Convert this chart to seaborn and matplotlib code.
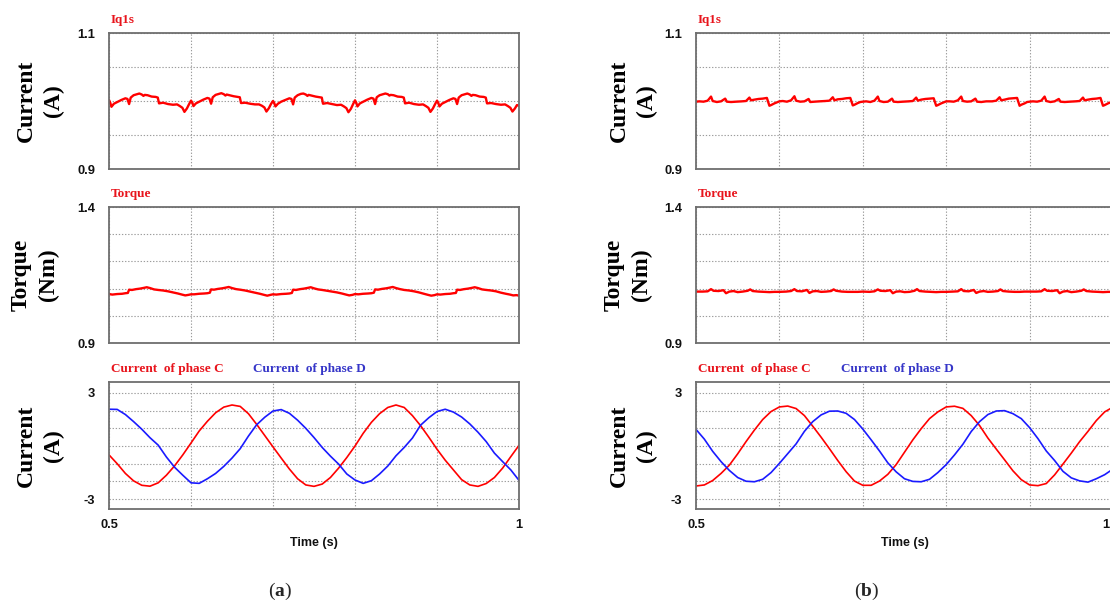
import matplotlib
matplotlib.use("Agg")
import matplotlib.pyplot as plt
import seaborn as sns
import pandas as pd

# ------------------------------------------------------------------ data
x_ticks = [0.5, 0.6, 0.7, 0.8, 0.9, 1.0]
x_tick_labels = ["0.5", "", "", "", "", "1"]
iq_yticks = [0.9, 0.95, 1.0, 1.05, 1.1]
iq_yticklabels = ["0.9", "", "", "", "1.1"]
tq_yticks = [0.9, 1.0, 1.1, 1.2, 1.3, 1.4]
tq_yticklabels = ["0.9", "", "", "", "", "1.4"]
ph_yticks = [-3, -2, -1, 0, 1, 2, 3]
ph_yticklabels = ["-3", "", "", "", "", "", "3"]

# (a) Iq1s
iq_a_time = [
    0.5000, 0.5015, 0.5030, 0.5060, 0.5100, 0.5150, 0.5200, 0.5225, 0.5245, 0.5265, 0.5300, 0.5340, 0.5370, 0.5400, 0.5420,
    0.5435, 0.5470, 0.5520, 0.5570, 0.5595, 0.5610, 0.5660, 0.5720, 0.5780, 0.5830, 0.5865, 0.5895, 0.5920, 0.5950, 0.5975,
    0.6000, 0.6015, 0.6030, 0.6060, 0.6100, 0.6150, 0.6200, 0.6225, 0.6245, 0.6265, 0.6300, 0.6340, 0.6370, 0.6400, 0.6420,
    0.6435, 0.6470, 0.6520, 0.6570, 0.6595, 0.6610, 0.6660, 0.6720, 0.6780, 0.6830, 0.6865, 0.6895, 0.6920, 0.6950, 0.6975,
    0.7000, 0.7015, 0.7030, 0.7060, 0.7100, 0.7150, 0.7200, 0.7225, 0.7245, 0.7265, 0.7300, 0.7340, 0.7370, 0.7400, 0.7420,
    0.7435, 0.7470, 0.7520, 0.7570, 0.7595, 0.7610, 0.7660, 0.7720, 0.7780, 0.7830, 0.7865, 0.7895, 0.7920, 0.7950, 0.7975,
    0.8000, 0.8015, 0.8030, 0.8060, 0.8100, 0.8150, 0.8200, 0.8225, 0.8245, 0.8265, 0.8300, 0.8340, 0.8370, 0.8400, 0.8420,
    0.8435, 0.8470, 0.8520, 0.8570, 0.8595, 0.8610, 0.8660, 0.8720, 0.8780, 0.8830, 0.8865, 0.8895, 0.8920, 0.8950, 0.8975,
    0.9000, 0.9015, 0.9030, 0.9060, 0.9100, 0.9150, 0.9200, 0.9225, 0.9245, 0.9265, 0.9300, 0.9340, 0.9370, 0.9400, 0.9420,
    0.9435, 0.9470, 0.9520, 0.9570, 0.9595, 0.9610, 0.9660, 0.9720, 0.9780, 0.9830, 0.9865, 0.9895, 0.9920, 0.9950, 0.9975,
    1.0000]
iq_a = [
    1.0015, 0.9975, 0.9915, 0.9960, 0.9985, 1.0015, 1.0040, 1.0030, 0.9955, 1.0050, 1.0085, 1.0100, 1.0110, 1.0095, 1.0075,
    1.0090, 1.0085, 1.0065, 1.0060, 1.0050, 0.9965, 0.9975, 0.9955, 0.9945, 0.9950, 0.9925, 0.9900, 0.9840, 0.9890, 0.9950,
    1.0005, 0.9980, 0.9925, 0.9965, 0.9990, 1.0020, 1.0045, 1.0035, 0.9960, 1.0055, 1.0090, 1.0105, 1.0115, 1.0100, 1.0080,
    1.0095, 1.0085, 1.0070, 1.0060, 1.0055, 0.9970, 0.9975, 0.9960, 0.9950, 0.9950, 0.9930, 0.9905, 0.9845, 0.9895, 0.9955,
    1.0000, 0.9970, 0.9920, 0.9960, 0.9990, 1.0015, 1.0040, 1.0030, 0.9950, 1.0050, 1.0085, 1.0105, 1.0110, 1.0095, 1.0075,
    1.0090, 1.0080, 1.0065, 1.0055, 1.0050, 0.9960, 0.9970, 0.9955, 0.9940, 0.9945, 0.9920, 0.9895, 0.9835, 0.9885, 0.9950,
    1.0010, 0.9975, 0.9920, 0.9965, 0.9990, 1.0020, 1.0045, 1.0035, 0.9955, 1.0055, 1.0085, 1.0100, 1.0110, 1.0100, 1.0080,
    1.0090, 1.0085, 1.0065, 1.0060, 1.0050, 0.9965, 0.9975, 0.9955, 0.9945, 0.9950, 0.9925, 0.9900, 0.9840, 0.9890, 0.9950,
    1.0005, 0.9975, 0.9920, 0.9960, 0.9985, 1.0015, 1.0040, 1.0030, 0.9955, 1.0050, 1.0085, 1.0100, 1.0110, 1.0095, 1.0075,
    1.0090, 1.0085, 1.0065, 1.0060, 1.0050, 0.9965, 0.9970, 0.9955, 0.9945, 0.9950, 0.9925, 0.9900, 0.9845, 0.9890, 0.9940,
    0.9930]

# (a) Torque
tq_a_time = [
    0.500, 0.504, 0.510, 0.516, 0.520, 0.523, 0.5245, 0.528, 0.533, 0.538, 0.543, 0.546, 0.550, 0.555, 0.560, 0.566, 0.572, 0.578, 0.584, 0.589, 0.593, 0.597,
    0.600, 0.604, 0.610, 0.616, 0.620, 0.623, 0.6245, 0.628, 0.633, 0.638, 0.643, 0.646, 0.650, 0.655, 0.660, 0.666, 0.672, 0.678, 0.684, 0.689, 0.693, 0.697,
    0.700, 0.704, 0.710, 0.716, 0.720, 0.723, 0.7245, 0.728, 0.733, 0.738, 0.743, 0.746, 0.750, 0.755, 0.760, 0.766, 0.772, 0.778, 0.784, 0.789, 0.793, 0.797,
    0.800, 0.804, 0.810, 0.816, 0.820, 0.823, 0.8245, 0.828, 0.833, 0.838, 0.843, 0.846, 0.850, 0.855, 0.860, 0.866, 0.872, 0.878, 0.884, 0.889, 0.893, 0.897,
    0.900, 0.904, 0.910, 0.916, 0.920, 0.923, 0.9245, 0.928, 0.933, 0.938, 0.943, 0.946, 0.950, 0.955, 0.960, 0.966, 0.972, 0.978, 0.984, 0.989, 0.993, 0.997,
    1.000]
tq_a = [
    1.080, 1.078, 1.080, 1.081, 1.083, 1.084, 1.096, 1.095, 1.098, 1.100, 1.103, 1.105, 1.102, 1.097, 1.095, 1.093, 1.090, 1.086, 1.082, 1.078, 1.075, 1.077,
    1.079, 1.079, 1.081, 1.082, 1.083, 1.085, 1.097, 1.096, 1.099, 1.101, 1.104, 1.106, 1.102, 1.098, 1.096, 1.093, 1.089, 1.085, 1.081, 1.077, 1.074, 1.077,
    1.079, 1.078, 1.080, 1.081, 1.082, 1.084, 1.096, 1.095, 1.098, 1.100, 1.103, 1.105, 1.101, 1.097, 1.095, 1.092, 1.089, 1.086, 1.082, 1.078, 1.075, 1.077,
    1.080, 1.079, 1.081, 1.082, 1.083, 1.085, 1.097, 1.096, 1.099, 1.101, 1.104, 1.106, 1.102, 1.098, 1.095, 1.093, 1.090, 1.086, 1.081, 1.077, 1.074, 1.076,
    1.079, 1.078, 1.080, 1.081, 1.083, 1.084, 1.096, 1.095, 1.098, 1.100, 1.103, 1.105, 1.102, 1.097, 1.095, 1.093, 1.090, 1.085, 1.081, 1.078, 1.075, 1.076,
    1.074]

# (b) Iq1s
iq_b_time = [
    0.500, 0.504, 0.509, 0.514, 0.518, 0.520, 0.525, 0.530, 0.535, 0.537, 0.542, 0.548, 0.555, 0.560, 0.564, 0.566, 0.570, 0.575, 0.580, 0.585, 0.588, 0.590, 0.594, 0.597,
    0.600, 0.604, 0.609, 0.614, 0.618, 0.620, 0.625, 0.630, 0.635, 0.637, 0.642, 0.648, 0.655, 0.660, 0.664, 0.666, 0.670, 0.675, 0.680, 0.685, 0.688, 0.690, 0.694, 0.697,
    0.700, 0.704, 0.709, 0.714, 0.718, 0.720, 0.725, 0.730, 0.735, 0.737, 0.742, 0.748, 0.755, 0.760, 0.764, 0.766, 0.770, 0.775, 0.780, 0.785, 0.788, 0.790, 0.794, 0.797,
    0.800, 0.804, 0.809, 0.814, 0.818, 0.820, 0.825, 0.830, 0.835, 0.837, 0.842, 0.848, 0.855, 0.860, 0.864, 0.866, 0.870, 0.875, 0.880, 0.885, 0.888, 0.890, 0.894, 0.897,
    0.900, 0.904, 0.909, 0.914, 0.918, 0.920, 0.925, 0.930, 0.935, 0.937, 0.942, 0.948, 0.955, 0.960, 0.964, 0.966, 0.970, 0.975, 0.980, 0.985, 0.988, 0.990, 0.994, 0.997,
    1.000]
iq_b = [
    0.9990, 0.9995, 0.9990, 1.0005, 1.0065, 1.0000, 0.9985, 0.9995, 1.0035, 0.9990, 0.9985, 0.9990, 0.9995, 1.0000, 1.0050, 1.0010, 1.0020, 1.0030, 1.0035, 1.0045, 0.9930, 0.9940, 0.9965, 0.9980,
    0.9995, 1.0000, 0.9990, 1.0010, 1.0070, 1.0005, 0.9990, 0.9995, 1.0030, 0.9985, 0.9990, 0.9995, 1.0000, 1.0005, 1.0055, 1.0010, 1.0025, 1.0030, 1.0040, 1.0045, 0.9935, 0.9945, 0.9970, 0.9985,
    0.9990, 0.9995, 0.9985, 1.0005, 1.0065, 1.0000, 0.9985, 0.9990, 1.0035, 0.9990, 0.9985, 0.9990, 0.9995, 1.0000, 1.0050, 1.0005, 1.0020, 1.0030, 1.0035, 1.0040, 0.9930, 0.9940, 0.9965, 0.9980,
    0.9995, 0.9995, 0.9990, 1.0010, 1.0065, 1.0000, 0.9990, 0.9995, 1.0035, 0.9990, 0.9985, 0.9995, 0.9995, 1.0005, 1.0055, 1.0010, 1.0020, 1.0035, 1.0040, 1.0045, 0.9930, 0.9945, 0.9965, 0.9985,
    0.9990, 0.9995, 0.9990, 1.0005, 1.0065, 1.0000, 0.9985, 0.9995, 1.0030, 0.9990, 0.9985, 0.9990, 0.9995, 1.0000, 1.0050, 1.0010, 1.0020, 1.0030, 1.0035, 1.0045, 0.9930, 0.9940, 0.9965, 0.9980,
    0.9990]

# (b) Torque
tq_b_time = [
    0.500, 0.508, 0.514, 0.518, 0.521, 0.527, 0.533, 0.536, 0.540, 0.545, 0.550, 0.556, 0.562, 0.565, 0.568, 0.575, 0.582, 0.588, 0.594,
    0.600, 0.608, 0.614, 0.618, 0.621, 0.627, 0.633, 0.636, 0.640, 0.645, 0.650, 0.656, 0.662, 0.665, 0.668, 0.675, 0.682, 0.688, 0.694,
    0.700, 0.708, 0.714, 0.718, 0.721, 0.727, 0.733, 0.736, 0.740, 0.745, 0.750, 0.756, 0.762, 0.765, 0.768, 0.775, 0.782, 0.788, 0.794,
    0.800, 0.808, 0.814, 0.818, 0.821, 0.827, 0.833, 0.836, 0.840, 0.845, 0.850, 0.856, 0.862, 0.865, 0.868, 0.875, 0.882, 0.888, 0.894,
    0.900, 0.908, 0.914, 0.918, 0.921, 0.927, 0.933, 0.936, 0.940, 0.945, 0.950, 0.956, 0.962, 0.965, 0.968, 0.975, 0.982, 0.988, 0.994,
    1.000]
tq_b = [
    1.089, 1.089, 1.090, 1.098, 1.092, 1.091, 1.094, 1.083, 1.089, 1.091, 1.087, 1.089, 1.092, 1.097, 1.091, 1.089, 1.088, 1.087, 1.088,
    1.088, 1.089, 1.091, 1.098, 1.091, 1.090, 1.095, 1.084, 1.090, 1.091, 1.088, 1.089, 1.091, 1.097, 1.092, 1.089, 1.088, 1.088, 1.088,
    1.089, 1.088, 1.090, 1.097, 1.092, 1.091, 1.094, 1.083, 1.089, 1.090, 1.087, 1.088, 1.092, 1.098, 1.091, 1.089, 1.088, 1.087, 1.088,
    1.088, 1.089, 1.090, 1.098, 1.091, 1.090, 1.095, 1.084, 1.089, 1.091, 1.088, 1.089, 1.091, 1.097, 1.091, 1.089, 1.088, 1.088, 1.089,
    1.089, 1.089, 1.090, 1.098, 1.092, 1.091, 1.094, 1.083, 1.089, 1.091, 1.087, 1.089, 1.092, 1.097, 1.091, 1.089, 1.088, 1.087, 1.088,
    1.088]

# phase currents
phase_time = [
    0.50, 0.51, 0.52, 0.53, 0.54, 0.55, 0.56, 0.57, 0.58, 0.59,
    0.60, 0.61, 0.62, 0.63, 0.64, 0.65, 0.66, 0.67, 0.68, 0.69,
    0.70, 0.71, 0.72, 0.73, 0.74, 0.75, 0.76, 0.77, 0.78, 0.79,
    0.80, 0.81, 0.82, 0.83, 0.84, 0.85, 0.86, 0.87, 0.88, 0.89,
    0.90, 0.91, 0.92, 0.93, 0.94, 0.95, 0.96, 0.97, 0.98, 0.99,
    1.00]
phase_c_a = [
    -0.50, -1.00, -1.55, -1.97, -2.22, -2.27, -2.08, -1.65, -1.12, -0.50,
    0.17, 0.85, 1.40, 1.88, 2.20, 2.32, 2.24, 1.83, 1.23, 0.59,
    -0.05, -0.68, -1.30, -1.85, -2.20, -2.28, -2.15, -1.78, -1.25, -0.65,
    0.00, 0.72, 1.34, 1.83, 2.18, 2.32, 2.18, 1.72, 1.15, 0.50,
    -0.18, -0.80, -1.35, -1.90, -2.20, -2.28, -2.12, -1.78, -1.25, -0.60,
    0.04]
phase_d_a = [
    2.08, 2.07, 1.78, 1.38, 0.95, 0.47, 0.05, -0.62, -1.20, -1.65,
    -2.08, -2.11, -1.85, -1.55, -1.15, -0.68, -0.15, 0.56, 1.20, 1.63,
    1.98, 2.06, 1.85, 1.46, 1.00, 0.48, -0.08, -0.57, -1.02, -1.58,
    -1.92, -2.11, -1.96, -1.58, -1.13, -0.55, -0.08, 0.45, 1.18, 1.60,
    1.95, 2.08, 1.92, 1.64, 1.25, 0.78, 0.25, -0.40, -0.88, -1.35,
    -1.94]
phase_c_b = [
    -2.26, -2.20, -1.95, -1.55, -1.08, -0.44, 0.25, 0.90, 1.50, 1.95,
    2.21, 2.26, 2.12, 1.72, 1.12, 0.50, -0.15, -0.82, -1.45, -1.98,
    -2.22, -2.22, -1.98, -1.60, -1.05, -0.35, 0.35, 0.98, 1.55, 1.93,
    2.21, 2.25, 2.13, 1.72, 1.16, 0.45, -0.17, -0.78, -1.40, -1.90,
    -2.20, -2.24, -2.12, -1.63, -1.02, -0.40, 0.25, 0.83, 1.44, 1.93,
    2.20]
phase_d_b = [
    0.94, 0.39, -0.30, -0.88, -1.38, -1.78, -1.99, -2.02, -1.88, -1.50,
    -0.98, -0.43, 0.12, 0.83, 1.38, 1.76, 1.97, 1.98, 1.85, 1.50,
    0.96, 0.35, -0.28, -0.95, -1.46, -1.85, -2.00, -2.02, -1.88, -1.50,
    -1.05, -0.50, 0.10, 0.82, 1.38, 1.78, 1.98, 2.00, 1.83, 1.55,
    1.04, 0.42, -0.28, -0.82, -1.43, -1.80, -1.97, -2.04, -1.85, -1.62,
    -1.30]

# ------------------------------------------------------------------ style
sns.set_theme(style="white")
plt.rcParams["font.family"] = ["Liberation Sans", "DejaVu Sans"]
plt.rcParams["mathtext.fontset"] = "custom"
plt.rcParams["mathtext.bf"] = "Liberation Serif:bold"
plt.rcParams["mathtext.rm"] = "Liberation Serif"

RED = "#ff0000"
BLUE = "#1a1aff"
TITLE_RED = "#e8141c"
TITLE_BLUE = "#3636c8"
SERIF = ["Liberation Serif", "DejaVu Serif"]
SANS = ["Liberation Sans", "DejaVu Sans"]

W, H = 1110, 608
fig = plt.figure(figsize=(W / 100, H / 100), dpi=100)
fig.patch.set_facecolor("white")

columns = {"a": (109, 410), "b": (696, 417)}
rows = [(33, 169), (207, 343), (382, 509)]
ylabel_x = {"a": [-0.110, -0.122, -0.110], "b": [-0.094, -0.106, -0.094]}


def make_axes(x0, w, y0, y1):
    return fig.add_axes([x0 / W, 1 - y1 / H, w / W, (y1 - y0) / H])


def style(ax, yticks, yticklabels, ylim, bottom, xlabels):
    ax.set_xlim(0.5, 1.0)
    ax.set_ylim(*ylim)
    ax.set_xticks(x_ticks)
    ax.set_xticklabels(xlabels if bottom else [""] * len(x_ticks))
    ax.set_yticks(yticks)
    ax.set_yticklabels(yticklabels)
    ax.tick_params(axis="both", length=0, labelsize=9.3, colors="#111111")
    ax.tick_params(axis="y", pad=10)
    ax.tick_params(axis="x", pad=7.5)
    for lab in ax.get_xticklabels() + ax.get_yticklabels():
        lab.set_fontweight("bold")
        lab.set_family(SANS)
    ax.grid(True, color="#9c9c9c", linestyle=(0, (1.2, 1.6)), linewidth=0.8)
    ax.set_axisbelow(True)
    for s in ax.spines.values():
        s.set_color("#6e6e6e")
        s.set_linewidth(1.3)
        s.set_visible(True)
    ax.set_facecolor("white")


def set_ylabel(ax, text, xpos):
    ax.set_ylabel(text, fontsize=17, fontweight="bold", family=SERIF,
                  linespacing=1.38, color="#000000")
    ax.yaxis.label.set_multialignment("center")
    ax.yaxis.set_label_coords(xpos, 0.5)


def title(ax, text, color, dx=0):
    ax.annotate(text, xy=(0, 1), xycoords="axes fraction",
                xytext=(2 + dx, 10), textcoords="offset pixels",
                ha="left", va="baseline", fontsize=9.5, fontweight="bold",
                family=SERIF, color=color)


panels = {
    "a": dict(iq=(iq_a_time, iq_a), tq=(tq_a_time, tq_a), c=phase_c_a, d=phase_d_a, dx=144, cut=False),
    "b": dict(iq=(iq_b_time, iq_b), tq=(tq_b_time, tq_b), c=phase_c_b, d=phase_d_b, dx=145, cut=True),
}

for key, (x0, w) in columns.items():
    p = panels[key]
    # --- Iq1s
    ax1 = make_axes(x0, w, *rows[0])
    sns.lineplot(x=p["iq"][0], y=p["iq"][1], ax=ax1, color=RED, linewidth=1.7,
                 estimator=None, sort=False)
    style(ax1, iq_yticks, iq_yticklabels, (0.9, 1.1), False, x_tick_labels)
    set_ylabel(ax1, "Current\n(A)", ylabel_x[key][0])
    title(ax1, "Iq1s", TITLE_RED)

    # --- Torque
    ax2 = make_axes(x0, w, *rows[1])
    sns.lineplot(x=p["tq"][0], y=p["tq"][1], ax=ax2, color=RED, linewidth=1.7,
                 estimator=None, sort=False)
    style(ax2, tq_yticks, tq_yticklabels, (0.9, 1.4), False, x_tick_labels)
    set_ylabel(ax2, "Torque\n(Nm)", ylabel_x[key][1])
    title(ax2, "Torque", TITLE_RED)

    # --- phase currents
    ax3 = make_axes(x0, w, *rows[2])
    df = pd.DataFrame({"t": phase_time, "C": p["c"], "D": p["d"]})
    sns.lineplot(data=df, x="t", y="C", ax=ax3, color=RED, linewidth=1.2,
                 estimator=None, sort=False)
    sns.lineplot(data=df, x="t", y="D", ax=ax3, color=BLUE, linewidth=1.2,
                 estimator=None, sort=False)
    labels = x_tick_labels[:-1] + [""] if p["cut"] else x_tick_labels
    style(ax3, ph_yticks, ph_yticklabels, (-3.56, 3.62), True, labels)
    if p["cut"]:
        # last tick label sits at the figure's right edge: keep it inside
        ax3.annotate(x_tick_labels[-1], xy=(x_ticks[-1], 0),
                     xycoords=("data", "axes fraction"),
                     xytext=(W - 1, 0), textcoords=("figure pixels", "offset pixels"),
                     ha="right", va="top", fontsize=9.3, fontweight="bold",
                     family=SANS, color="#111111")
        ax3.texts[-1].set_position((W - 1, -10.4))
    set_ylabel(ax3, "Current\n(A)", ylabel_x[key][2])
    ax3.set_xlabel("Time (s)", fontsize=9, fontweight="bold", family=SANS,
                   labelpad=4, color="#111111")
    title(ax3, "Current  of phase C", TITLE_RED)
    title(ax3, "Current  of phase D", TITLE_BLUE, dx=p["dx"] - 2)

# sub-figure labels
fig.text(280 / W, 1 - 591 / H, r"($\mathbf{a}$)", ha="center", va="center",
         fontsize=14, family=SERIF)
fig.text(867 / W, 1 - 591 / H, r"($\mathbf{b}$)", ha="center", va="center",
         fontsize=14, family=SERIF)

fig.savefig("out.png", dpi=100, facecolor="white")
